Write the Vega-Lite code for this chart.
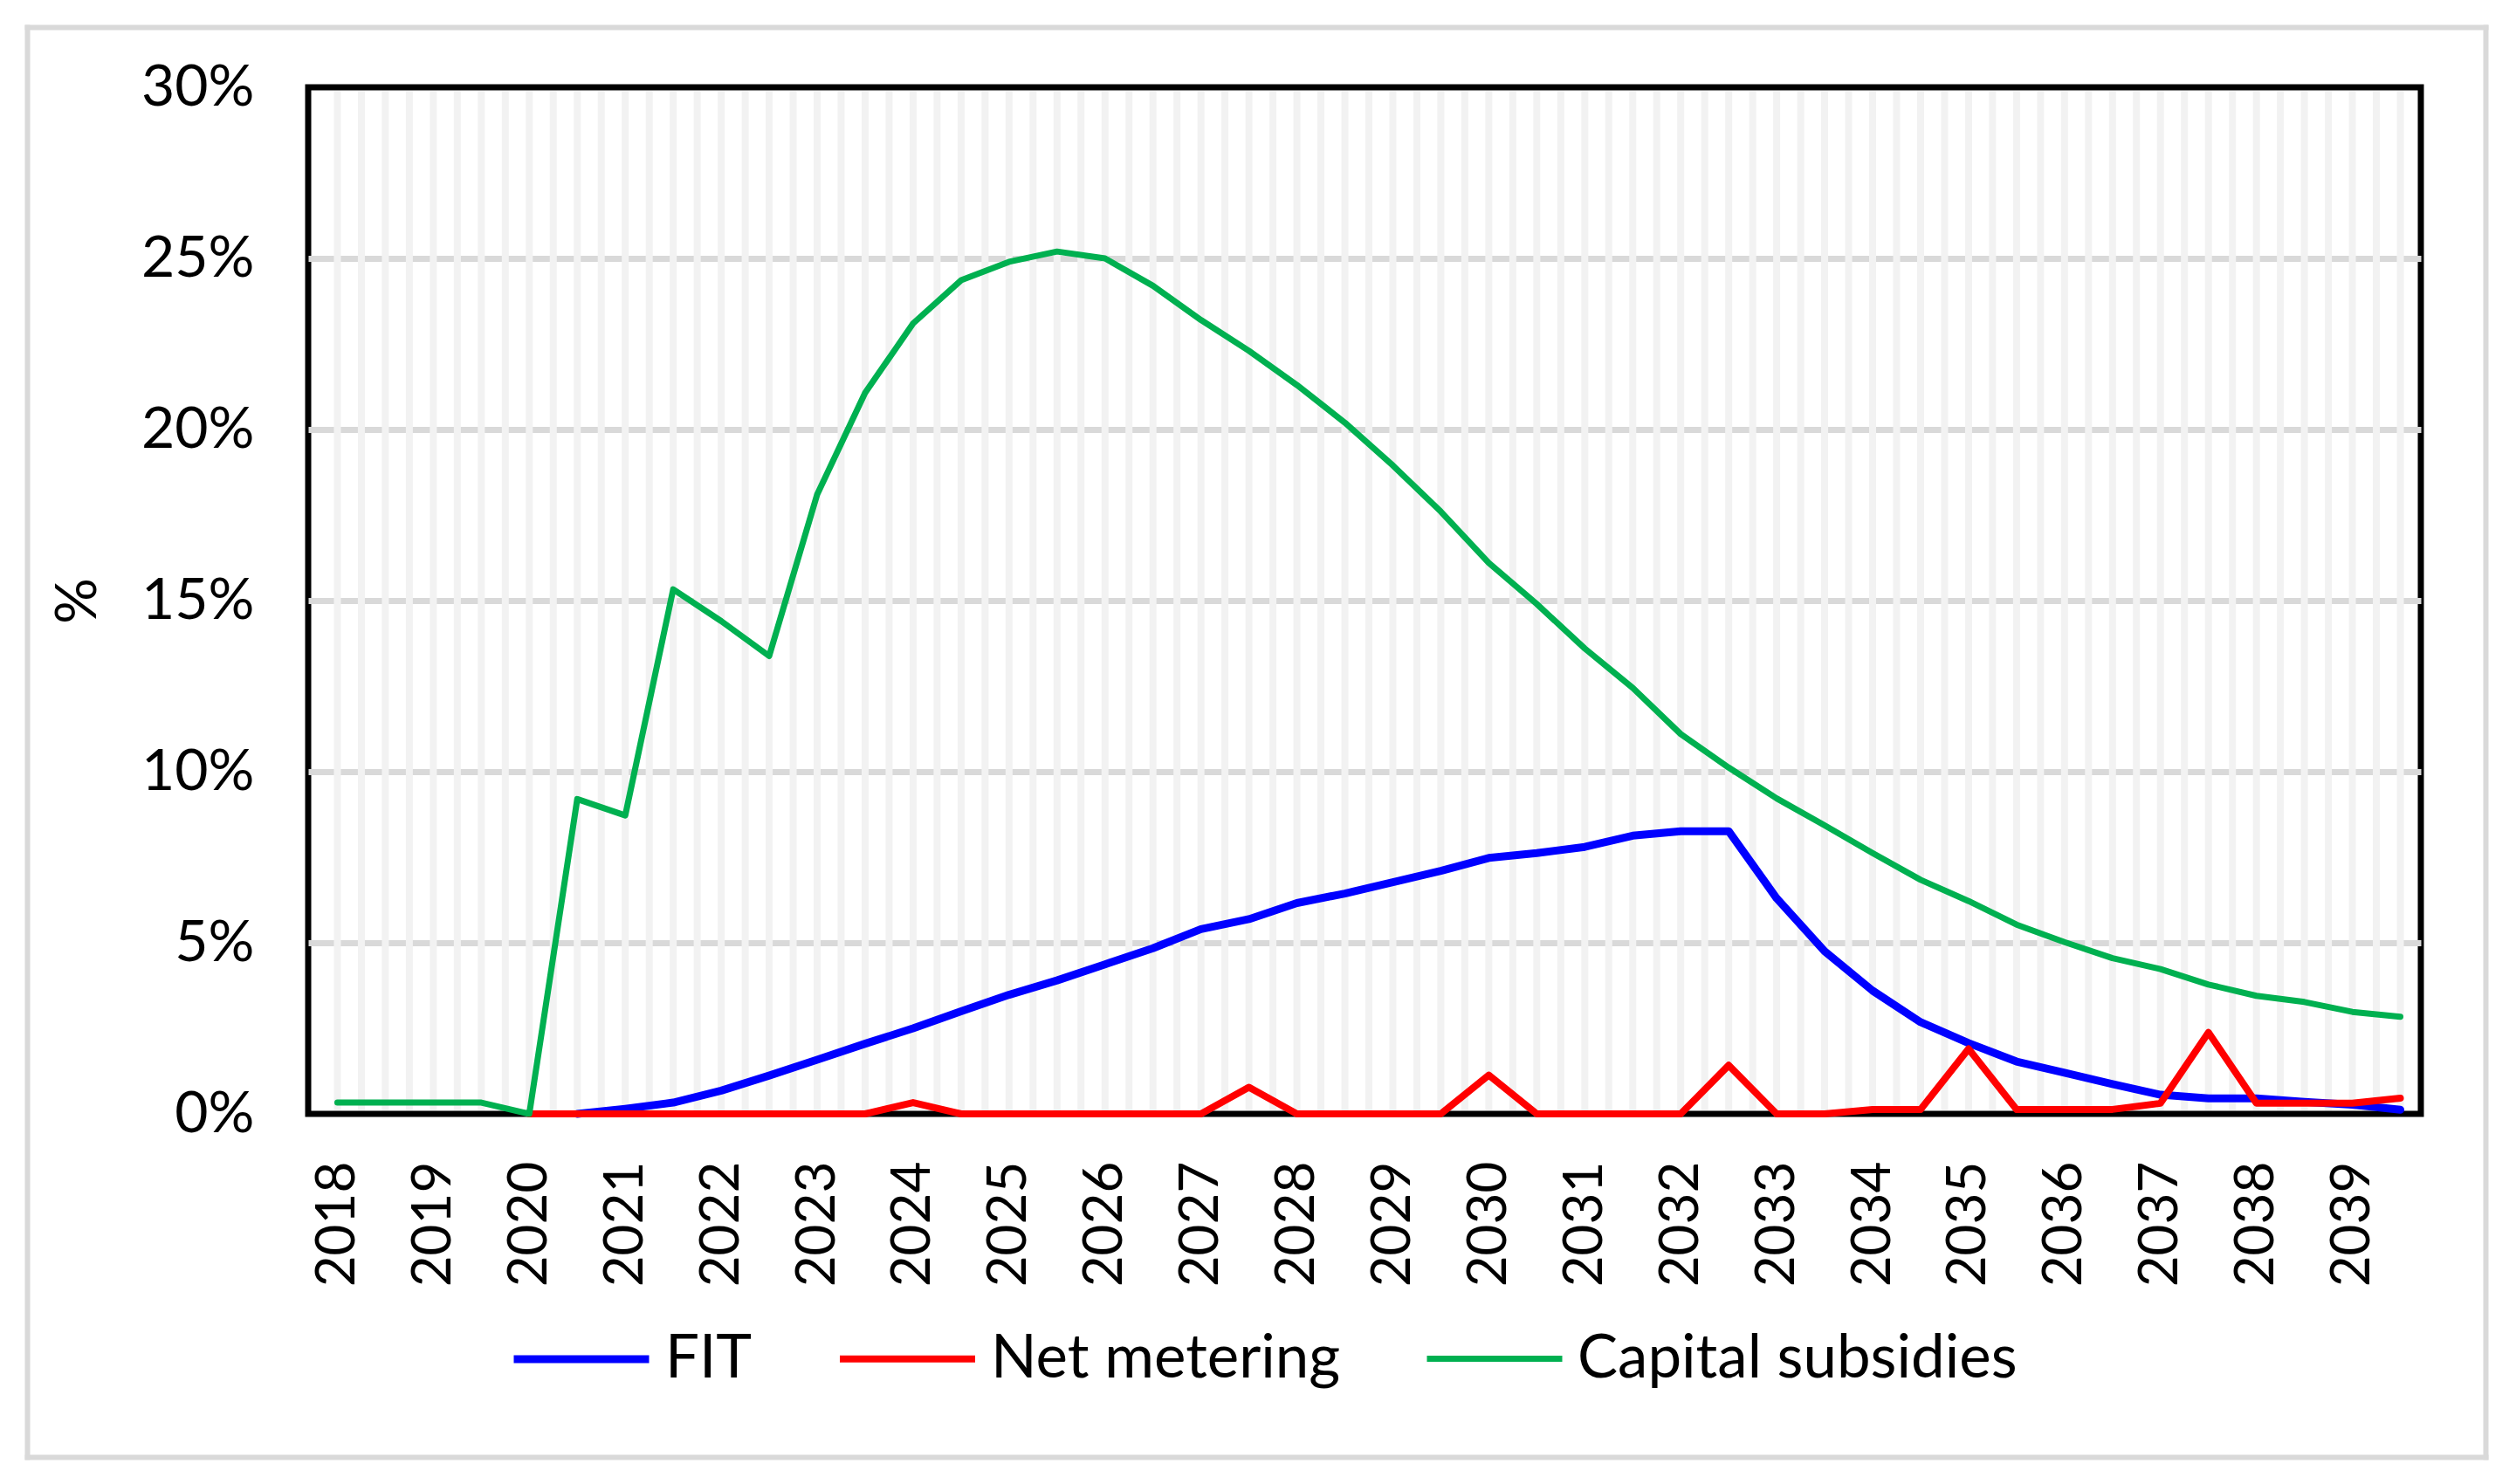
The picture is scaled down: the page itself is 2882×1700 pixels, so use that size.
{
  "$schema": "https://vega.github.io/schema/vega-lite/v6.json",
  "autosize": {"type": "none"},
  "padding": {"left": 353, "top": 100, "right": 109, "bottom": 424},
  "width": 2420,
  "height": 1176,
  "background": "white",
  "config": {
    "view": {"stroke": "#000000", "strokeWidth": 7},
    "font": "Lato"
  },
  "datasets": {
    "grid": [
      {"q": 2018}, {"q": 2018.25}, {"q": 2018.5}, {"q": 2018.75},
      {"q": 2019}, {"q": 2019.25}, {"q": 2019.5}, {"q": 2019.75},
      {"q": 2020}, {"q": 2020.25}, {"q": 2020.5}, {"q": 2020.75},
      {"q": 2021}, {"q": 2021.25}, {"q": 2021.5}, {"q": 2021.75},
      {"q": 2022}, {"q": 2022.25}, {"q": 2022.5}, {"q": 2022.75},
      {"q": 2023}, {"q": 2023.25}, {"q": 2023.5}, {"q": 2023.75},
      {"q": 2024}, {"q": 2024.25}, {"q": 2024.5}, {"q": 2024.75},
      {"q": 2025}, {"q": 2025.25}, {"q": 2025.5}, {"q": 2025.75},
      {"q": 2026}, {"q": 2026.25}, {"q": 2026.5}, {"q": 2026.75},
      {"q": 2027}, {"q": 2027.25}, {"q": 2027.5}, {"q": 2027.75},
      {"q": 2028}, {"q": 2028.25}, {"q": 2028.5}, {"q": 2028.75},
      {"q": 2029}, {"q": 2029.25}, {"q": 2029.5}, {"q": 2029.75},
      {"q": 2030}, {"q": 2030.25}, {"q": 2030.5}, {"q": 2030.75},
      {"q": 2031}, {"q": 2031.25}, {"q": 2031.5}, {"q": 2031.75},
      {"q": 2032}, {"q": 2032.25}, {"q": 2032.5}, {"q": 2032.75},
      {"q": 2033}, {"q": 2033.25}, {"q": 2033.5}, {"q": 2033.75},
      {"q": 2034}, {"q": 2034.25}, {"q": 2034.5}, {"q": 2034.75},
      {"q": 2035}, {"q": 2035.25}, {"q": 2035.5}, {"q": 2035.75},
      {"q": 2036}, {"q": 2036.25}, {"q": 2036.5}, {"q": 2036.75},
      {"q": 2037}, {"q": 2037.25}, {"q": 2037.5}, {"q": 2037.75},
      {"q": 2038}, {"q": 2038.25}, {"q": 2038.5}, {"q": 2038.75},
      {"q": 2039}, {"q": 2039.25}, {"q": 2039.5}
    ],
    "series": [
      {"year": 2018, "FIT": null, "Net metering": null, "Capital subsidies": 0.0033},
      {"year": 2018.5, "FIT": null, "Net metering": null, "Capital subsidies": 0.0033},
      {"year": 2019, "FIT": null, "Net metering": null, "Capital subsidies": 0.0033},
      {"year": 2019.5, "FIT": null, "Net metering": null, "Capital subsidies": 0.0033},
      {"year": 2020, "FIT": null, "Net metering": 0, "Capital subsidies": 0},
      {"year": 2020.5, "FIT": 0, "Net metering": 0, "Capital subsidies": 0.092},
      {"year": 2021, "FIT": 0.0015, "Net metering": 0, "Capital subsidies": 0.0872},
      {"year": 2021.5, "FIT": 0.0033, "Net metering": 0, "Capital subsidies": 0.1533},
      {"year": 2022, "FIT": 0.0068, "Net metering": 0, "Capital subsidies": 0.144},
      {"year": 2022.5, "FIT": 0.0112, "Net metering": 0, "Capital subsidies": 0.1338},
      {"year": 2023, "FIT": 0.0158, "Net metering": 0, "Capital subsidies": 0.181},
      {"year": 2023.5, "FIT": 0.0205, "Net metering": 0, "Capital subsidies": 0.2107},
      {"year": 2024, "FIT": 0.025, "Net metering": 0.0033, "Capital subsidies": 0.231},
      {"year": 2024.5, "FIT": 0.03, "Net metering": 0, "Capital subsidies": 0.2436},
      {"year": 2025, "FIT": 0.0348, "Net metering": 0, "Capital subsidies": 0.249},
      {"year": 2025.5, "FIT": 0.039, "Net metering": 0, "Capital subsidies": 0.252},
      {"year": 2026, "FIT": 0.0437, "Net metering": 0, "Capital subsidies": 0.25},
      {"year": 2026.5, "FIT": 0.0484, "Net metering": 0, "Capital subsidies": 0.242},
      {"year": 2027, "FIT": 0.054, "Net metering": 0, "Capital subsidies": 0.232},
      {"year": 2027.5, "FIT": 0.0569, "Net metering": 0.0078, "Capital subsidies": 0.223},
      {"year": 2028, "FIT": 0.0616, "Net metering": 0, "Capital subsidies": 0.213},
      {"year": 2028.5, "FIT": 0.0644, "Net metering": 0, "Capital subsidies": 0.202},
      {"year": 2029, "FIT": 0.0677, "Net metering": 0, "Capital subsidies": 0.1895},
      {"year": 2029.5, "FIT": 0.071, "Net metering": 0, "Capital subsidies": 0.176},
      {"year": 2030, "FIT": 0.0748, "Net metering": 0.0113, "Capital subsidies": 0.161},
      {"year": 2030.5, "FIT": 0.0762, "Net metering": 0, "Capital subsidies": 0.149},
      {"year": 2031, "FIT": 0.078, "Net metering": 0, "Capital subsidies": 0.136},
      {"year": 2031.5, "FIT": 0.0813, "Net metering": 0, "Capital subsidies": 0.1245},
      {"year": 2032, "FIT": 0.0826, "Net metering": 0, "Capital subsidies": 0.111},
      {"year": 2032.5, "FIT": 0.0826, "Net metering": 0.0142, "Capital subsidies": 0.1012},
      {"year": 2033, "FIT": 0.063, "Net metering": 0, "Capital subsidies": 0.0922},
      {"year": 2033.5, "FIT": 0.0475, "Net metering": 0, "Capital subsidies": 0.0843},
      {"year": 2034, "FIT": 0.036, "Net metering": 0.0013, "Capital subsidies": 0.0762},
      {"year": 2034.5, "FIT": 0.0268, "Net metering": 0.0013, "Capital subsidies": 0.0684},
      {"year": 2035, "FIT": 0.0207, "Net metering": 0.019, "Capital subsidies": 0.0622},
      {"year": 2035.5, "FIT": 0.0153, "Net metering": 0.0013, "Capital subsidies": 0.0553},
      {"year": 2036, "FIT": 0.012, "Net metering": 0.0013, "Capital subsidies": 0.0502},
      {"year": 2036.5, "FIT": 0.0087, "Net metering": 0.0013, "Capital subsidies": 0.0455},
      {"year": 2037, "FIT": 0.0056, "Net metering": 0.0031, "Capital subsidies": 0.0423},
      {"year": 2037.5, "FIT": 0.0045, "Net metering": 0.0238, "Capital subsidies": 0.0378},
      {"year": 2038, "FIT": 0.0045, "Net metering": 0.0031, "Capital subsidies": 0.0345},
      {"year": 2038.5, "FIT": 0.0035, "Net metering": 0.0031, "Capital subsidies": 0.0327},
      {"year": 2039, "FIT": 0.0027, "Net metering": 0.0031, "Capital subsidies": 0.0298},
      {"year": 2039.5, "FIT": 0.0012, "Net metering": 0.0046, "Capital subsidies": 0.0284}
    ]
  },
  "resolve": {
    "scale": {"x": "independent", "y": "independent"},
    "axis": {"x": "independent", "y": "independent"}
  },
  "layer": [
    {
      "layer": [
        {
          "data": {"name": "grid"},
          "mark": {"type": "rule", "color": "#f2f2f2", "strokeWidth": 8},
          "encoding": {
            "x": {
              "field": "q",
              "type": "quantitative",
              "scale": {"domain": [2017.6955, 2039.7136], "nice": false, "zero": false},
              "axis": {
                "title": null,
                "values": [2018, 2019, 2020, 2021, 2022, 2023, 2024, 2025, 2026, 2027, 2028, 2029, 2030, 2031, 2032, 2033, 2034, 2035, 2036, 2037, 2038, 2039],
                "format": "d",
                "labelAngle": -90,
                "labelFontSize": 62,
                "labelFont": "Lato",
                "labelColor": "#000000",
                "labelPadding": 54,
                "ticks": false,
                "tickSize": 0,
                "domain": false,
                "grid": false,
                "labelOverlap": false
              }
            },
            "y": {"datum": 0.001, "type": "quantitative"},
            "y2": {"datum": 0.299}
          }
        },
        {
          "data": {"name": "series"},
          "transform": [
            {"fold": ["FIT", "Net metering", "Capital subsidies"], "as": ["series", "value"]}
          ],
          "mark": {"type": "line", "strokeJoin": "round", "strokeCap": "round"},
          "encoding": {
            "x": {
              "field": "year",
              "type": "quantitative",
              "scale": {"domain": [2017.6955, 2039.7136], "nice": false, "zero": false},
              "axis": {
                "title": null,
                "values": [2018, 2019, 2020, 2021, 2022, 2023, 2024, 2025, 2026, 2027, 2028, 2029, 2030, 2031, 2032, 2033, 2034, 2035, 2036, 2037, 2038, 2039],
                "format": "d",
                "labelAngle": -90,
                "labelFontSize": 62,
                "labelFont": "Lato",
                "labelColor": "#000000",
                "labelPadding": 54,
                "ticks": false,
                "tickSize": 0,
                "domain": false,
                "grid": false,
                "labelOverlap": false
              }
            },
            "y": {
              "field": "value",
              "type": "quantitative",
              "scale": {"domain": [0, 0.3], "nice": false},
              "axis": {
                "title": "%",
                "titleFontSize": 66,
                "titleFont": "Lato",
                "titleFontWeight": "normal",
                "titleColor": "#000000",
                "titlePadding": 38,
                "values": [0, 0.05, 0.1, 0.15, 0.2, 0.25, 0.3],
                "format": ".0%",
                "labelFontSize": 66,
                "labelFont": "Lato",
                "labelColor": "#000000",
                "labelPadding": 62,
                "ticks": false,
                "tickSize": 0,
                "domain": false,
                "grid": true,
                "gridColor": "#d9d9d9",
                "gridWidth": 7,
                "gridOpacity": {
                  "condition": {"test": "datum.value < 0.001 || datum.value > 0.299", "value": 0},
                  "value": 1
                }
              }
            },
            "color": {
              "field": "series",
              "type": "nominal",
              "scale": {
                "domain": ["FIT", "Net metering", "Capital subsidies"],
                "range": ["#0000FF", "#FF0000", "#00B050"]
              },
              "legend": {
                "title": null,
                "orient": "none",
                "direction": "horizontal",
                "legendX": 231,
                "legendY": 1375,
                "padding": 0,
                "symbolType": "stroke",
                "symbolSize": 24025,
                "symbolStrokeWidth": 6.5,
                "labelFontSize": 69,
                "labelFont": "Lato",
                "labelColor": "#000000",
                "labelOffset": 14,
                "columnPadding": 84,
                "labelLimit": 1000
              }
            },
            "strokeWidth": {
              "field": "series",
              "type": "nominal",
              "scale": {
                "domain": ["FIT", "Net metering", "Capital subsidies"],
                "range": [9, 7, 7]
              },
              "legend": null
            }
          }
        }
      ]
    },
    {
      "data": {"name": "series"},
      "mark": {"type": "point", "opacity": 0},
      "encoding": {
        "x": {
          "field": "year",
          "type": "quantitative",
          "scale": {"domain": [2017, 2040], "range": [-322, 2494], "nice": false, "zero": false},
          "axis": {"orient": "top", "offset": 69, "labels": false, "ticks": false, "grid": false, "title": null, "domain": true, "domainColor": "#d9d9d9", "domainWidth": 6, "domainCap": "square"}
        },
        "y": {
          "field": "Capital subsidies",
          "type": "quantitative",
          "scale": {"domain": [0, 0.3], "range": [1569, -69], "nice": false},
          "axis": {"orient": "right", "offset": 74, "labels": false, "ticks": false, "grid": false, "title": null, "domain": true, "domainColor": "#d9d9d9", "domainWidth": 6, "domainCap": "square"}
        }
      }
    },
    {
      "data": {"name": "series"},
      "mark": {"type": "point", "opacity": 0},
      "encoding": {
        "x": {
          "field": "year",
          "type": "quantitative",
          "scale": {"domain": [2017, 2040], "range": [-322, 2494], "nice": false, "zero": false},
          "axis": {"orient": "bottom", "offset": 393, "labels": false, "ticks": false, "grid": false, "title": null, "domain": true, "domainColor": "#d9d9d9", "domainWidth": 6, "domainCap": "square"}
        },
        "y": {
          "field": "Capital subsidies",
          "type": "quantitative",
          "scale": {"domain": [0, 0.3], "range": [1569, -69], "nice": false},
          "axis": {"orient": "left", "offset": 322, "labels": false, "ticks": false, "grid": false, "title": null, "domain": true, "domainColor": "#d9d9d9", "domainWidth": 6, "domainCap": "square"}
        }
      }
    }
  ]
}
